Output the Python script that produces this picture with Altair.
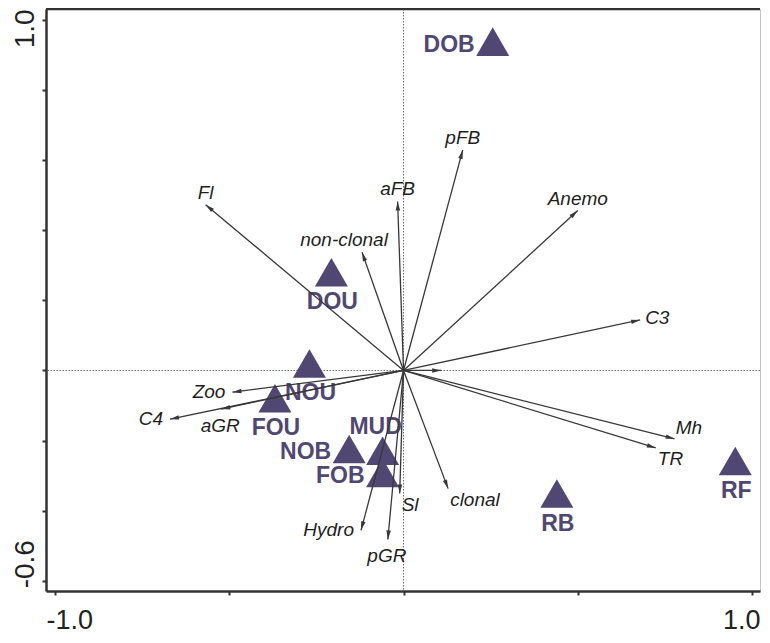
import altair as alt
import numpy as np
import pandas as pd

# ---- data ----
arrow_names = ["Fl", "aFB", "non-clonal", "pFB", "Anemo", "C3", "", "Mh", "TR",
               "clonal", "Sl", "pGR", "Hydro", "aGR", "C4", "Zoo"]
arrow_x = [-0.568, -0.017, -0.119, 0.170, 0.500, 0.679, 0.108, 0.778, 0.724,
           0.128, -0.011, -0.045, -0.122, -0.523, -0.670, -0.491]
arrow_y = [0.473, 0.482, 0.337, 0.629, 0.456, 0.144, 0.0, -0.195, -0.221,
           -0.337, -0.351, -0.482, -0.456, -0.110, -0.139, -0.062]
arrow_side = ["above", "above", "above-left", "above", "above", "right", "none",
              "above-right", "below-right", "below-right", "below-right", "below",
              "left", "below", "left", "left"]

site_names = ["DOB", "DOU", "NOU", "FOU", "NOB", "MUD", "FOB", "RB", "RF"]
site_x = [0.256, -0.207, -0.270, -0.369, -0.156, -0.060, -0.060, 0.440, 0.952]
site_y = [0.938, 0.280, 0.020, -0.079, -0.224, -0.229, -0.292, -0.351, -0.258]
site_side = ["left", "below", "below", "below", "left", "above", "left", "below", "below"]

x_ticks = [-1.0, -0.5, 0.0, 0.5, 1.0]
y_ticks = [-0.6, -0.4, -0.2, 0.0, 0.2, 0.4, 0.6, 0.8, 1.0]
x_domain = [-1.026, 1.023]
y_domain = [-0.629, 1.031]

# ---- styling ----
W, H = 714, 582
FONT = "Liberation Sans"
PURPLE = "#504873"
ARROW = "#383838"
AXIS = "#333333"

arrows = pd.DataFrame({"name": arrow_names, "x": arrow_x, "y": arrow_y, "side": arrow_side})
arrows["x0"] = 0.0
arrows["y0"] = 0.0
arrows["angle"] = (np.degrees(np.arctan2(arrows["x"], arrows["y"])) + 360) % 360

sites = pd.DataFrame({"name": site_names, "x": site_x, "y": site_y, "side": site_side})

xs = alt.Scale(domain=x_domain, nice=False, zero=False)
ys = alt.Scale(domain=y_domain, nice=False, zero=False)

xaxis = alt.Axis(
    values=x_ticks, title=None, grid=False,
    domainColor=AXIS, domainWidth=2.5, tickColor=AXIS, tickWidth=2, tickSize=4,
    labelExpr="datum.value < -0.99 ? '-1.0' : (datum.value > 0.99 ? '1.0' : '')",
    labelFont=FONT, labelFontSize=27, labelColor="#222222",
    labelPadding=12, labelBaseline="top",
    labelAlign={"condition": {"test": "datum.value < 0", "value": "left"}, "value": "right"},
    labelOffset={"condition": {"test": "datum.value < 0", "value": -9}, "value": 8},
    labelOverlap=False, labelBound=False, labelFlush=False,
)
yaxis = alt.Axis(
    values=y_ticks, title=None, grid=False,
    domainColor=AXIS, domainWidth=2.5, tickColor=AXIS, tickWidth=2, tickSize=4,
    labelExpr="datum.value > 0.99 ? '1.0' : (datum.value < -0.59 ? '-0.6' : '')",
    labelFont=FONT, labelFontSize=28, labelColor="#222222",
    labelAngle=270, labelPadding=9, labelBaseline="alphabetic",
    labelAlign={"condition": {"test": "datum.value > 0", "value": "right"}, "value": "left"},
    labelOffset={"condition": {"test": "datum.value > 0", "value": -11}, "value": 7},
    labelOverlap=False, labelBound=False, labelFlush=False,
)

base_sites = alt.Chart(sites)
base_arrows = alt.Chart(arrows)

# dotted cross lines through the origin
vline = alt.Chart(pd.DataFrame({"v": [0.0]})).mark_rule(
    color="#666666", strokeWidth=1, strokeDash=[1.5, 1.5]
).encode(x=alt.X("v:Q", scale=xs, axis=xaxis))
hline = alt.Chart(pd.DataFrame({"v": [0.0]})).mark_rule(
    color="#666666", strokeWidth=1, strokeDash=[1.5, 1.5]
).encode(y=alt.Y("v:Q", scale=ys, axis=yaxis))

top_border = alt.Chart(pd.DataFrame({"v": [0]})).mark_rule(
    color=AXIS, strokeWidth=2.5
).encode(x=alt.value(0), x2=alt.value(W), y=alt.value(0))

# site triangles
tri = base_sites.mark_point(shape="triangle-up", filled=True, size=1089,
                            color=PURPLE, opacity=1).encode(
    x=alt.X("x:Q", scale=xs, axis=xaxis), y=alt.Y("y:Q", scale=ys, axis=yaxis))

def site_text(side, align, dx, dy):
    return base_sites.transform_filter(alt.datum.side == side).mark_text(
        font=FONT, fontSize=23, fontWeight="bold", color=PURPLE,
        align=align, baseline="middle", dx=dx, dy=dy
    ).encode(x=alt.X("x:Q", scale=xs), y=alt.Y("y:Q", scale=ys), text="name:N")

site_labels = [
    site_text("left", "right", -18, 3),
    site_text("below", "center", 1, 30),
    site_text("above", "center", -7, -24),
]

# arrows
lines = base_arrows.mark_rule(color=ARROW, strokeWidth=1.3).encode(
    x=alt.X("x:Q", scale=xs), y=alt.Y("y:Q", scale=ys), x2="x0:Q", y2="y0:Q")
heads = base_arrows.mark_point(shape="M0,0L-0.5,2L0.5,2Z", filled=True, size=81,
                               color=ARROW, opacity=1).encode(
    x=alt.X("x:Q", scale=xs), y=alt.Y("y:Q", scale=ys),
    angle=alt.Angle("angle:Q", scale=None))

def arrow_text(side, align, dx, dy):
    return base_arrows.transform_filter(alt.datum.side == side).mark_text(
        font=FONT, fontSize=19, fontStyle="italic", color="#1e1e1e",
        align=align, baseline="middle", dx=dx, dy=dy
    ).encode(x=alt.X("x:Q", scale=xs), y=alt.Y("y:Q", scale=ys), text="name:N")

arrow_labels = [
    arrow_text("above", "center", 0, -12),
    arrow_text("above-left", "center", -18, -12),
    arrow_text("right", "left", 5, -2),
    arrow_text("above-right", "left", 1, -11),
    arrow_text("below-right", "left", 2, 11),
    arrow_text("below", "center", -1, 17),
    arrow_text("left", "right", -7, 0),
]

chart = alt.layer(
    vline, hline, tri, *site_labels, lines, heads, *arrow_labels, top_border
).properties(
    width=W, height=H,
    autosize=alt.AutoSizeParams(type="none"),
    padding={"left": 38, "top": 1, "right": 2, "bottom": 44},
).configure_view(stroke="#c4c4c4", strokeWidth=1)

chart.save("out.html", embed_options={"renderer": "svg", "actions": False})
